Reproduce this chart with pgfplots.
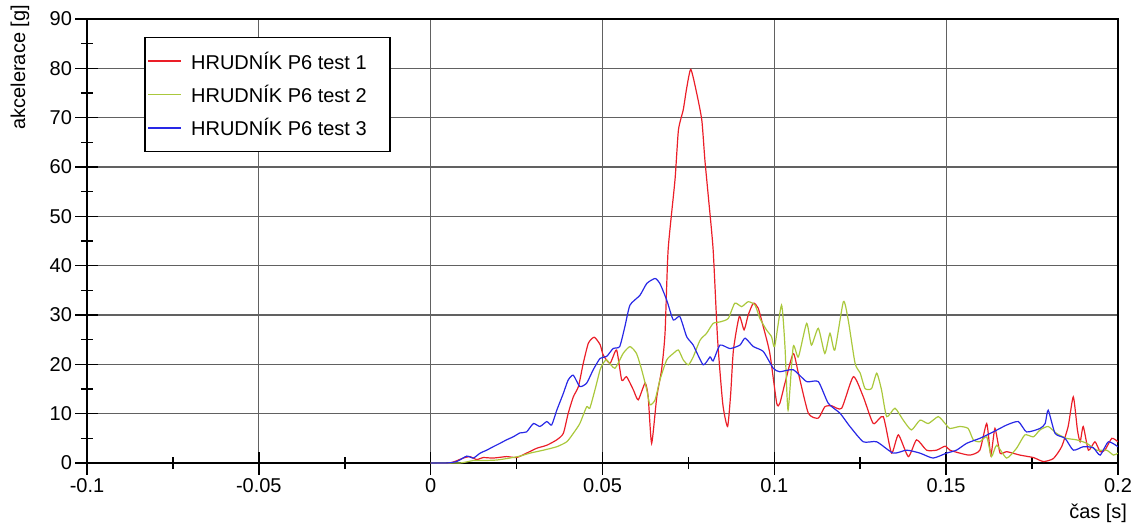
\documentclass[border=0pt]{standalone}
\usepackage{fontspec}
\setmainfont{Liberation Sans}
\usepackage{pgfplots}
\pgfplotsset{compat=1.18}

\definecolor{testred}{RGB}{235,30,40}
\definecolor{testgreen}{RGB}{170,200,60}
\definecolor{testblue}{RGB}{40,40,230}

\begin{document}
\begin{tikzpicture}[font=\fontsize{20}{24}\selectfont]
\begin{axis}[
    at={(0pt,0pt)}, anchor=south west,
    scale only axis,
    width=1031pt, height=444pt,
    xmin=-0.1, xmax=0.2,
    ymin=0, ymax=90,
    xtick={-0.1,-0.05,0,0.05,0.1,0.15,0.2},
    xticklabels={-0.1,-0.05,0,0.05,0.1,0.15,0.2},
    minor xtick={-0.075,-0.025,0.025,0.075,0.125,0.175},
    ytick={0,10,...,90},
    minor ytick={5,15,...,85},
    /pgf/number format/assume math mode=true,
    tick label style={font=\fontsize{20}{24}\selectfont},
    tick align=center,
    major tick length=23pt,
    minor tick length=12pt,
    tick style={black, line width=1.6pt},
    xtick pos=bottom, ytick pos=left,
    grid=major,
    major grid style={black!62, line width=1.2pt},
    axis line style={black, line width=2pt},
    xlabel={čas [s]},
    ylabel={akcelerace [g]},
    xlabel style={at={(axis description cs:1.009,-0.124)}, anchor=base east, inner sep=0pt},
    ylabel style={at={(axis description cs:-0.065,1.032)}, anchor=east, inner sep=0pt},
    legend style={at={(axis description cs:0.0553,0.9595)}, anchor=north west,
        draw=black, line width=1.5pt, fill=white, text=black,
        font=\fontsize{20}{24}\selectfont,
        inner xsep=3pt, inner ysep=12pt, row sep=10.5pt,
        legend cell align=left,
        /tikz/every odd column/.append style={column sep=7pt}},
    legend image code/.code={\draw[#1, sharp plot, line width=1.4pt] (0pt,0pt) -- (33pt,0pt);},
]
% test 1
\addplot[color=testred, line width=1.2pt, smooth, tension=0.35] coordinates {
(0,0) (0.0056,0) (0.0095,1) (0.0114,1.3) (0.0134,0.7) (0.0153,1.1) (0.0182,1) (0.0221,1.3)
(0.025,1.1) (0.0279,2) (0.0309,3) (0.0338,3.6) (0.0367,4.7) (0.0386,6) (0.04,10) (0.0415,13.4)
(0.043,15.5) (0.0444,20.2) (0.0459,24.3) (0.0476,25.5) (0.0493,24) (0.0502,21.9) (0.0522,20.2)
(0.0541,22.9) (0.0556,16.8) (0.057,17.5) (0.059,14.8) (0.0604,12.8) (0.0624,16.2) (0.0633,13.4)
(0.0643,4) (0.0658,13.4) (0.0672,18.9) (0.0682,26.3) (0.0691,43.2) (0.0711,57.4) (0.0721,67.5)
(0.0735,71.6) (0.0745,76) (0.0757,79.8) (0.0774,75) (0.0789,69.5) (0.0798,61.4) (0.0808,54)
(0.0822,43.2) (0.0835,25) (0.085,12) (0.0864,7.4) (0.0873,14) (0.0881,22.9) (0.0898,29.7)
(0.0912,27) (0.0924,30) (0.0939,32.4) (0.0953,31.4) (0.0968,27.6) (0.0987,22.2) (0.1007,12.1)
(0.1016,12.1) (0.1031,16.2) (0.1055,22.2) (0.107,18.2) (0.1099,10.1) (0.1128,9.1) (0.1147,11.4)
(0.1167,11.6) (0.1196,11.1) (0.123,17.5) (0.1259,13.4) (0.1288,8) (0.1317,9.4) (0.1341,2)
(0.1361,5.7) (0.139,1.3) (0.1414,4.7) (0.1443,2.6) (0.1472,2.6) (0.1497,3.4) (0.1511,2.6)
(0.154,2) (0.1569,1.6) (0.1598,2.6) (0.1618,8) (0.163,1.6) (0.1642,7) (0.1657,2) (0.1676,2.3)
(0.1715,1.6) (0.1754,1.1) (0.1783,0.3) (0.1812,0.9) (0.1836,3.3) (0.1855,7.4) (0.187,13.4)
(0.1882,6.7) (0.189,4.3) (0.1899,7.4) (0.1914,2.6) (0.1933,4.3) (0.1948,2.3) (0.1962,2.6)
(0.1982,5) (0.2,4.3)
};
\addlegendentry{HRUDNÍK P6 test 1\rule{18pt}{0pt}}
% test 2
\addplot[color=testgreen, line width=1.2pt, smooth, tension=0.35] coordinates {
(0,0) (0.0085,0) (0.0124,0.5) (0.0153,0.5) (0.0192,0.6) (0.023,1) (0.026,1.4) (0.0289,2)
(0.0328,2.6) (0.0367,3.3) (0.0396,4.3) (0.0415,6) (0.0434,8) (0.0454,11.4) (0.0463,11.1)
(0.0478,14.8) (0.0493,18.9) (0.0502,20.2) (0.0512,20.9) (0.0536,19.2) (0.056,22.2) (0.058,23.6)
(0.0599,22.2) (0.0614,18.9) (0.0629,14.8) (0.0638,11.8) (0.0653,12.8) (0.0667,16.8) (0.0687,20.9)
(0.0706,22.2) (0.0721,22.9) (0.0735,20.9) (0.075,19.9) (0.0764,21.5) (0.0784,24.9) (0.0803,26.3)
(0.0822,28.3) (0.0842,28.6) (0.0866,29.3) (0.0885,32.4) (0.0905,31.7) (0.0924,32.7) (0.0944,32)
(0.0958,29.3) (0.0977,27) (0.0992,25.6) (0.1001,23.6) (0.1021,32) (0.1031,23.6) (0.104,10.7)
(0.1055,23.6) (0.107,21.5) (0.1094,28.3) (0.1108,23.9) (0.1128,27.3) (0.1147,22.2) (0.1162,26.3)
(0.1176,22.9) (0.1201,32.7) (0.1215,29) (0.1235,20.2) (0.125,18.2) (0.1264,15.1) (0.1283,15.1)
(0.1298,18.2) (0.1312,14.8) (0.1327,9.4) (0.1351,11.1) (0.1375,8.7) (0.1399,6.7) (0.1424,8.7)
(0.1448,8) (0.1477,9.4) (0.1497,8) (0.1511,7) (0.154,7.4) (0.1564,7) (0.1579,4.7) (0.1598,4.3)
(0.1618,5.3) (0.1632,1.3) (0.1647,3.6) (0.1676,1) (0.1705,3) (0.1729,5.7) (0.1754,5.3)
(0.1773,6.7) (0.1797,7.4) (0.1821,6) (0.185,5) (0.1879,4.7) (0.1909,4) (0.1938,2.6) (0.1967,2.6)
(0.1987,1.6) (0.2,2)
};
\addlegendentry{HRUDNÍK P6 test 2\rule{18pt}{0pt}}
% test 3
\addplot[color=testblue, line width=1.2pt, smooth, tension=0.35] coordinates {
(0,0) (0.0047,0) (0.0076,0.3) (0.0105,1.4) (0.0124,1) (0.0144,2) (0.0163,2.6) (0.0182,3.3)
(0.0202,4) (0.0221,4.7) (0.024,5.3) (0.026,6.1) (0.0279,6.3) (0.0299,8) (0.0318,7.4) (0.0338,8.4)
(0.0352,7.7) (0.0367,10.7) (0.0386,14.1) (0.04,16.8) (0.0415,17.8) (0.0434,15.5) (0.0454,16.2)
(0.0473,18.9) (0.0493,21.2) (0.0512,21.6) (0.0531,23.2) (0.055,23.6) (0.0565,27.6) (0.058,32)
(0.0609,34) (0.0629,36.4) (0.0653,37.4) (0.0667,36.4) (0.0687,33) (0.0706,29) (0.0725,29.7)
(0.0745,25.6) (0.0764,23.9) (0.0793,19.9) (0.0813,21.5) (0.0822,20.7) (0.0842,23.9) (0.0871,23.2)
(0.09,23.9) (0.0915,25.3) (0.0939,23.6) (0.0968,22.6) (0.0997,19.2) (0.1016,18.5) (0.1055,18.9)
(0.1094,16.5) (0.1128,16.5) (0.1157,12.1) (0.1191,10.1) (0.122,7.4) (0.1259,4.3) (0.1298,4.3)
(0.1346,2) (0.1385,2.6) (0.1424,2) (0.1462,1) (0.1501,2) (0.153,2.6) (0.156,4) (0.1598,5)
(0.1637,6.3) (0.1676,7.7) (0.171,8.4) (0.1734,6.3) (0.1773,7) (0.1788,8) (0.1797,10.7)
(0.1817,6) (0.1846,5) (0.187,2.6) (0.1899,3.3) (0.1928,3.1) (0.1948,1.6) (0.1972,4.3) (0.2,3.3)
};
\addlegendentry{HRUDNÍK P6 test 3\rule{18pt}{0pt}}
\end{axis}
\pgfresetboundingbox
\useasboundingbox (-87pt,-60pt) rectangle (1049pt,463pt);
\end{tikzpicture}
\end{document}
